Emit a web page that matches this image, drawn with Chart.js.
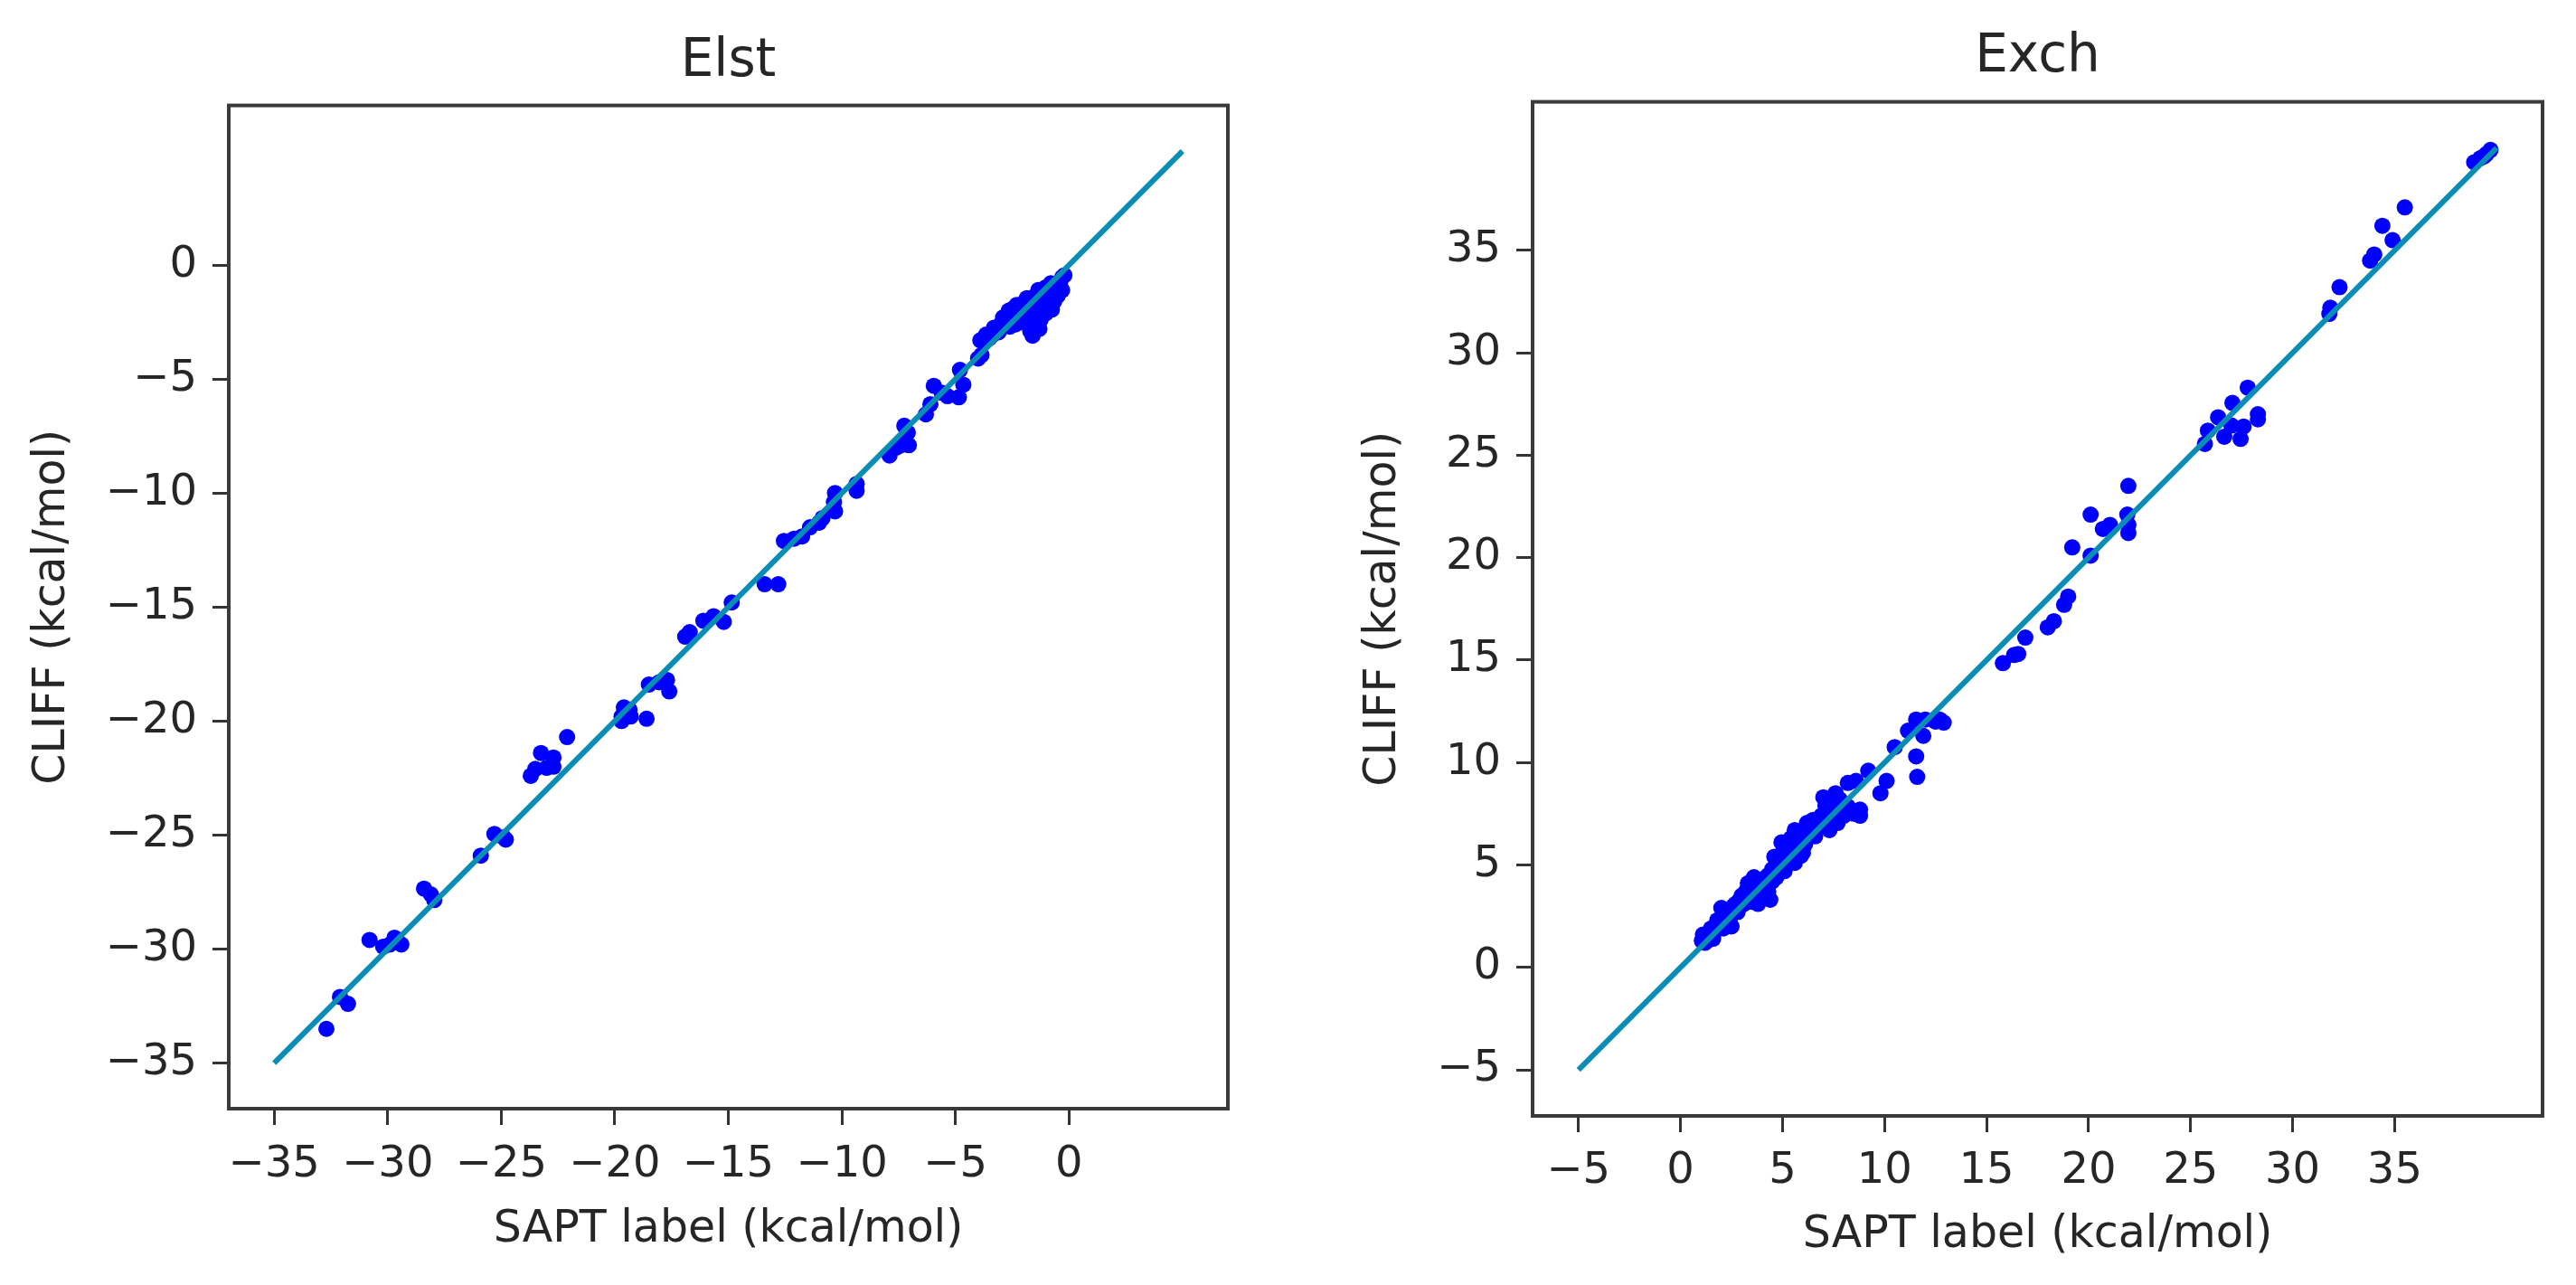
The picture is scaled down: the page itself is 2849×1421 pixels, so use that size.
<!DOCTYPE html>
<html><head><meta charset="utf-8">
<script src="https://cdn.jsdelivr.net/npm/chart.js@4.4.1/dist/chart.umd.min.js"></script>
<style>
html,body{margin:0;padding:0;background:#fff;}
body{width:2849px;height:1421px;position:relative;overflow:hidden;}
canvas{position:absolute;top:0;}
</style></head><body>
<canvas id="c1" width="1420" height="1421" style="left:0"></canvas>
<canvas id="c2" width="1424" height="1421" style="left:1425px"></canvas>
<script>
// ---------- Elst panel data ----------
const elstSapt = [-32.7,-32.1,-31.75,-30.8,-30.2,-29.9,-29.6,-29.4,-29.7,-28.4,-28.1,-27.95,-25.9,-25.3,-24.9,-24.8,
  -23.7,-23.5,-23.25,-23.0,-22.7,-22.7,-22.1,-19.7,-19.6,-19.35,-19.7,-19.3,-18.6,-18.5,-18.05,-17.7,-17.6,
  -16.9,-16.7,-16.1,-15.65,-15.2,-14.85,-13.4,-12.8,-12.55,-12.1,-11.75,-11.4,-11.0,-10.85,-10.3,-10.35,-10.3,
  -9.35,-9.35,-7.9,-7.6,-7.4,-7.1,-7.25,-7.05,-6.3,-6.1,-5.95,-5.6,-5.35,-4.85,-4.65,-4.8,-4.0,-3.85,
  -3.9,-3.65,-3.4,-3.2,-3.0,-2.75,-2.6,-2.45,-2.35,-2.2,-2.05,-2.0,-1.9,-1.8,-1.7,-1.6,-1.6,-1.5,-1.45,-1.35,
  -1.3,-1.2,-1.1,-1.0,-0.9,-0.85,-0.75,-0.6,-0.5,-0.45,-0.3,-0.3,-0.2,
  -3.7,-3.5,-3.3,-3.1,-2.9,-2.8,-2.65,-2.5,-2.3,-2.15,-1.95,-1.85,-1.75,-1.65,-1.55,-1.4,-1.4,-1.25,-1.15,-1.05,
  -0.95,-0.8,-0.7,-0.65,-0.55,-0.4,-1.55,-1.7,-1.25,-2.1];
const elstCliff = [-33.5,-32.1,-32.4,-29.6,-29.9,-29.8,-29.6,-29.8,-29.5,-27.35,-27.6,-27.85,-25.9,-24.95,-25.1,-25.2,
  -22.4,-22.1,-21.4,-22.05,-21.6,-22.0,-20.7,-19.8,-19.4,-19.5,-20.0,-19.8,-19.9,-18.4,-18.3,-18.2,-18.7,
  -16.3,-16.1,-15.6,-15.4,-15.65,-14.8,-14.0,-14.0,-12.1,-12.0,-11.9,-11.5,-11.3,-11.1,-10.8,-10.4,-10.0,
  -9.6,-9.9,-8.35,-8.0,-7.9,-7.35,-7.05,-7.9,-6.55,-6.1,-5.3,-5.6,-5.75,-5.8,-5.25,-4.6,-4.1,-3.95,
  -3.3,-3.05,-3.1,-2.8,-2.6,-2.35,-2.7,-1.9,-2.6,-2.1,-1.8,-2.05,-1.55,-2.4,-2.6,-3.1,-1.9,-2.45,-1.35,-1.1,
  -2.8,-1.85,-1.5,-2.1,-1.2,-1.65,-1.95,-0.9,-1.35,-0.75,-1.1,-0.55,-0.45,
  -3.3,-3.2,-2.75,-2.95,-2.3,-2.6,-2.0,-2.25,-1.75,-2.3,-2.0,-1.45,-1.75,-2.2,-1.4,-1.95,-2.5,-1.3,-2.2,-1.0,
  -1.6,-0.8,-1.35,-1.6,-0.95,-0.85,-2.8,-2.9,-2.4,-2.5];
const elstLine = [-35, 5];
const elstTicks = [-35, -30, -25, -20, -15, -10, -5, 0];

// ---------- Exch panel data ----------
const exchSapt = [1.05,1.1,1.3,1.5,1.7,1.9,2.0,2.2,2.3,2.4,2.6,2.7,2.8,3.0,3.1,3.3,3.4,3.5,3.6,3.7,3.8,4.0,4.1,4.3,4.3,4.4,
  4.5,4.6,4.8,4.95,5.0,5.1,5.3,5.4,5.6,5.7,5.9,6.0,6.2,6.4,6.6,6.8,7.0,7.2,7.3,7.5,7.6,7.7,7.9,8.2,8.2,8.5,8.6,8.8,8.8,
  9.2,9.8,10.1,10.5,11.15,11.55,11.55,11.6,11.9,12.0,12.5,12.9,12.7,
  15.8,16.35,16.55,16.9,18.0,18.3,18.8,19.0,19.2,20.1,20.1,20.7,21.05,21.9,21.95,21.95,21.95,
  25.7,25.85,26.35,26.65,27.0,27.45,27.6,27.05,27.8,28.3,28.3,31.8,31.85,32.3,33.8,34.0,34.4,34.9,35.5,
  38.9,39.2,39.4,39.5,39.7,
  1.2,1.4,1.6,1.8,2.1,2.5,2.9,3.2,3.5,3.9,4.2,4.5,4.7,4.9,5.2,5.5,5.8,6.1,6.3,6.5,6.9,7.1,7.4,7.8,8.0,
  3.8,4.2,2.5,5.6,6.0];
const exchCliff = [1.3,1.6,1.5,1.9,1.8,2.0,2.9,2.4,2.1,2.25,3.0,3.1,2.7,3.5,3.1,4.1,3.3,3.2,4.4,3.8,3.5,3.5,4.0,3.7,4.5,3.3,
  4.8,5.4,5.0,6.1,5.6,4.7,5.45,6.3,6.7,5.7,5.45,6.5,7.05,6.8,6.4,6.9,8.3,7.4,6.7,8.0,8.5,7.05,7.6,7.85,9.0,7.5,9.1,7.7,7.4,
  9.6,8.5,9.1,10.75,11.55,12.1,10.3,9.3,11.3,12.1,12.0,11.95,12.1,
  14.85,15.25,15.3,16.1,16.6,16.9,17.7,18.1,20.5,20.1,22.1,21.4,21.6,22.1,21.6,21.2,23.5,
  25.55,26.2,26.85,25.9,26.45,25.8,26.4,27.55,28.3,27.0,26.75,31.9,32.2,33.2,34.5,34.8,36.2,35.5,37.1,
  39.3,39.5,39.6,39.7,39.9,
  1.2,1.35,1.4,2.3,1.9,2.6,3.3,3.7,3.8,4.2,4.4,4.2,4.4,5.3,5.7,5.9,6.2,6.0,6.6,7.2,7.4,7.9,7.6,8.2,7.4,
  3.1,3.4,2.0,5.1,5.6];
const exchLine = [-5, 40];
const exchTicks = [-5, 0, 5, 10, 15, 20, 25, 30, 35];

const FONT = "'DejaVu Sans', sans-serif";
const TEXT = '#262626';
const LINE_COLOR = '#0a8db5';

const framePlugin = {
  id: 'frame',
  afterDatasetsDraw(chart) {
    const { ctx, chartArea: a } = chart;
    ctx.save();
    ctx.strokeStyle = '#3a3a3a';
    ctx.lineWidth = 4;
    ctx.strokeRect(a.left, a.top, a.right - a.left, a.bottom - a.top);
    ctx.restore();
  }
};

const fmt = v => (v < 0 ? '\u2212' + Math.abs(v) : String(v));

function pairs(xs, ys) { return xs.map((x, i) => ({ x: x, y: ys[i] })); }

function build(id, p) {
  const axisCommon = (ticksArr, extra) => Object.assign({
    type: 'linear', min: p.min, max: p.max,
    afterBuildTicks: s => { s.ticks = ticksArr.map(v => ({ value: v })); },
    grid: { drawOnChartArea: false, drawTicks: true, tickLength: 18, lineWidth: 3, color: '#333', tickColor: '#333' },
    border: { display: false },
  }, extra);
  return new Chart(document.getElementById(id), {
    type: 'scatter',
    data: {
      datasets: [
        { data: pairs(p.line, p.line), showLine: true, borderColor: LINE_COLOR, borderWidth: 6,
          pointRadius: 0, order: 0 },
        { data: pairs(p.xs, p.ys), backgroundColor: '#0000ff', borderWidth: 0, pointRadius: 9, order: 1 }
      ]
    },
    options: {
      responsive: false, animation: false, events: [],
      layout: { padding: { left: 0, right: p.padRight, top: 0, bottom: 0 } },
      plugins: {
        legend: { display: false }, tooltip: { enabled: false },
        title: { display: true, text: p.title, fullSize: false, color: TEXT,
          font: { family: FONT, size: 58, weight: 'normal' },
          padding: { top: p.titleTop, bottom: p.titleBottom } }
      },
      scales: {
        x: axisCommon(p.ticks, {
          afterFit: s => { s.height = p.xAxisH; },
          ticks: { color: TEXT, font: { family: FONT, size: 48 }, padding: p.xPad, maxRotation: 0,
                   autoSkip: false, callback: v => fmt(v) },
          title: { display: true, text: 'SAPT label (kcal/mol)', color: TEXT,
                   font: { family: FONT, size: 49 }, padding: { top: 0, bottom: p.xTitleBottom } }
        }),
        y: axisCommon(p.ticks, {
          afterFit: s => { s.width = p.yAxisW; },
          ticks: { color: TEXT, font: { family: FONT, size: 48 }, padding: 17, autoSkip: false,
                   callback: v => fmt(v) },
          title: { display: true, text: 'CLIFF (kcal/mol)', color: TEXT,
                   font: { family: FONT, size: 49 }, padding: { top: p.yTitleTop, bottom: 0 } }
        })
      }
    },
    plugins: [framePlugin]
  });
}

build('c1', {
  title: 'Elst', xs: elstSapt, ys: elstCliff, line: elstLine, ticks: elstTicks,
  min: -37, max: 7, padRight: 62, titleTop: 34, titleBottom: 13,
  xAxisH: 195, yAxisW: 253, xPad: 16, xTitleBottom: 31, yTitleTop: 29
});
build('c2', {
  title: 'Exch', xs: exchSapt, ys: exchCliff, line: exchLine, ticks: exchTicks,
  min: -7.25, max: 42.25, padRight: 37, titleTop: 29, titleBottom: 14,
  xAxisH: 187, yAxisW: 270, xPad: 15, xTitleBottom: 25, yTitleTop: 76
});
</script>
</body></html>
